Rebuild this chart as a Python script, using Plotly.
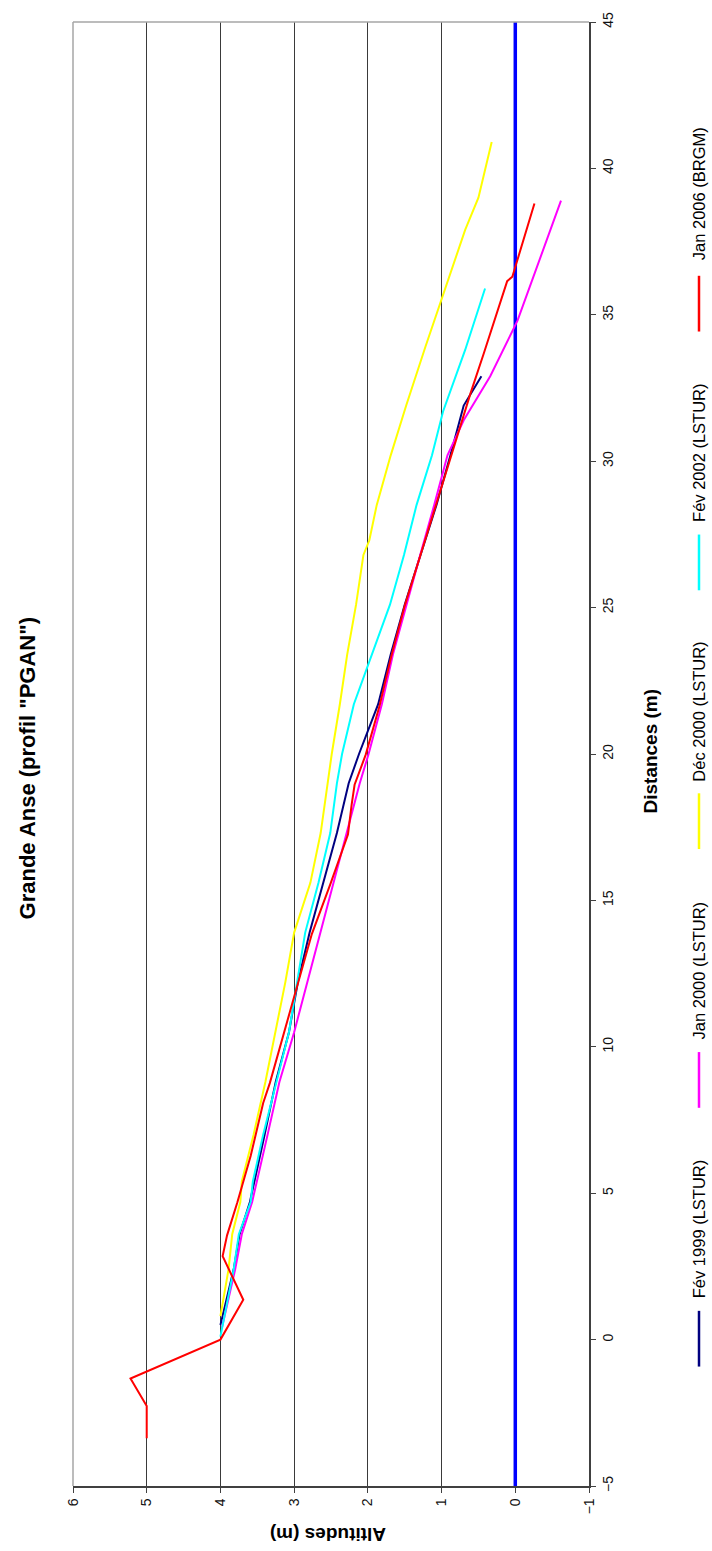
import plotly.graph_objects as go

# Beach profile "PGAN" at Grande Anse: altitude (m) against distance (m)
fev1999_dist = [0.5, 2.4, 3.6, 4.7, 7.0, 8.8, 10.5, 12.2, 13.9, 15.6, 17.3, 19.0, 20.0, 21.7,
                23.4, 25.1, 26.8, 28.5, 30.2, 31.9, 32.9]
fev1999_alt = [4.0, 3.82, 3.74, 3.60, 3.40, 3.25, 3.07, 2.95, 2.79, 2.60, 2.42, 2.26, 2.12, 1.86,
               1.69, 1.50, 1.29, 1.07, 0.88, 0.70, 0.46]

jan2000_dist = [0.4, 2.4, 3.6, 4.7, 7.0, 8.8, 10.5, 12.2, 13.9, 15.6, 17.3, 19.0, 20.0, 21.7,
                23.4, 25.1, 26.8, 28.5, 30.2, 31.4, 32.9, 34.8, 36.8, 38.9]
jan2000_alt = [3.98, 3.80, 3.71, 3.57, 3.36, 3.20, 3.00, 2.82, 2.64, 2.46, 2.29, 2.11, 1.99, 1.81,
               1.66, 1.48, 1.29, 1.10, 0.92, 0.70, 0.34, -0.03, -0.32, -0.62]

dec2000_dist = [0.8, 2.4, 3.6, 4.7, 5.4, 7.0, 8.8, 10.5, 12.2, 13.9, 15.6, 17.3, 19.0, 20.0,
                21.7, 23.4, 25.1, 26.8, 27.3, 28.5, 30.2, 31.9, 33.9, 35.4, 37.9, 39.0, 40.9]
dec2000_alt = [4.0, 3.89, 3.84, 3.73, 3.71, 3.55, 3.39, 3.25, 3.12, 3.00, 2.78, 2.64, 2.55, 2.49,
               2.38, 2.28, 2.16, 2.06, 1.98, 1.88, 1.69, 1.48, 1.22, 1.02, 0.68, 0.50, 0.32]

fev2002_dist = [0.1, 2.4, 3.6, 4.7, 5.4, 7.0, 8.8, 10.5, 12.2, 13.9, 15.6, 17.3, 19.0, 20.0,
                21.7, 23.4, 25.1, 26.8, 28.5, 30.2, 31.7, 33.8, 35.9]
fev2002_alt = [4.0, 3.82, 3.75, 3.59, 3.56, 3.42, 3.24, 3.07, 2.96, 2.85, 2.67, 2.51, 2.42, 2.35,
               2.19, 1.95, 1.70, 1.51, 1.34, 1.13, 0.98, 0.68, 0.41]

jan2006_dist = [-3.37, -2.27, -1.33, 0.0, 1.36, 2.85, 3.56, 4.69, 6.27, 8.08, 8.76, 10.46, 12.16,
                13.85, 15.55, 17.25, 18.27, 18.95, 19.97, 21.66, 23.36, 25.06, 26.76, 28.45,
                30.7, 32.3, 33.66, 36.15, 36.3, 36.83, 38.8]
jan2006_alt = [5.0, 5.0, 5.22, 4.0, 3.69, 3.97, 3.91, 3.77, 3.59, 3.42, 3.33, 3.14, 2.94,
               2.76, 2.51, 2.27, 2.22, 2.18, 2.03, 1.84, 1.68, 1.50, 1.29, 1.08,
               0.81, 0.61, 0.43, 0.11, 0.04, -0.025, -0.26]

# mean sea level reference
sea_dist = [-5, 45]
sea_alt = [0, 0]

series_names = ["Fév 1999 (LSTUR)", "Jan 2000 (LSTUR)", "Déc 2000 (LSTUR)",
                "Fév 2002 (LSTUR)", "Jan 2006 (BRGM)"]
series_colors = ["#000080", "#FF00FF", "#FFFF00", "#00FFFF", "#FF0000"]
series_data = [(fev1999_dist, fev1999_alt), (jan2000_dist, jan2000_alt),
               (dec2000_dist, dec2000_alt), (fev2002_dist, fev2002_alt),
               (jan2006_dist, jan2006_alt)]

W, H = 712, 1551
L, R, T, B = 73, 589, 15, 1486          # plot area edges in pixels
FONT = "Liberation Sans, Arial, sans-serif"


def px(xp):
    return (xp - L) / (R - L)


def py(yp):
    return (B - yp) / (B - T)


fig = go.Figure()

# the whole chart is laid out turned a quarter-turn: altitude runs across, distance runs up
fig.add_trace(go.Scatter(x=sea_alt, y=sea_dist, mode="lines",
                         line=dict(color="#0000FF", width=3.5), hoverinfo="skip"))

for name, color, (d, a) in zip(series_names, series_colors, series_data):
    fig.add_trace(go.Scatter(x=a, y=d, mode="lines", name=name,
                             line=dict(color=color, width=2)))

fig.update_xaxes(range=[6, -1], dtick=1, tick0=0, ticks="outside", ticklen=5,
                 tickcolor="#404040", showline=True, linecolor="#404040", linewidth=1.5,
                 showgrid=True, gridcolor="#3a3a3a", gridwidth=1.2, zeroline=False,
                 tickangle=-90, tickfont=dict(family=FONT, size=14, color="#111"))
fig.update_yaxes(range=[-5, 45], dtick=5, tick0=0, side="right", ticks="outside", ticklen=5,
                 tickcolor="#404040", showline=True, linecolor="#404040", linewidth=1.5,
                 showgrid=False, zeroline=False, tickangle=-90,
                 tickfont=dict(family=FONT, size=14, color="#111"))

shapes = [
    dict(type="line", xref="paper", yref="paper", x0=0, x1=0, y0=0, y1=1,
         line=dict(color="#a6a6a6", width=1.5)),
    dict(type="line", xref="paper", yref="paper", x0=0, x1=1, y0=1, y1=1,
         line=dict(color="#a6a6a6", width=1.5)),
]

annotations = [
    dict(text="<b>Grande Anse (profil \"PGAN\")</b>", x=px(27), y=py(765), textangle=-90,
         font=dict(family=FONT, size=22, color="#000")),
    dict(text="<b>Distances (m)</b>", x=px(651), y=py(748), textangle=-90,
         font=dict(family=FONT, size=19, color="#000")),
    dict(text="<b>Altitudes (m)</b>", x=px(328), y=py(1534), textangle=180,
         font=dict(family=FONT, size=19, color="#000")),
]

# legend drawn sideways along the right edge
legend_x = 699
legend_centres = [1338, 1078, 818, 558, 298]
for name, color, yc in zip(series_names, series_colors, legend_centres):
    shapes.append(dict(type="line", xref="paper", yref="paper",
                       x0=px(legend_x), x1=px(legend_x), y0=py(yc + 28), y1=py(yc - 28),
                       line=dict(color=color, width=2.5)))
    annotations.append(dict(text=name, x=px(legend_x), y=py(yc - 110), textangle=-90,
                            font=dict(family=FONT, size=16.5, color="#000")))

for a in annotations:
    a.update(xref="paper", yref="paper", showarrow=False,
             xanchor="center", yanchor="middle")

fig.update_layout(width=W, height=H, autosize=False, showlegend=False,
                  margin=dict(l=L, r=W - R, t=T, b=H - B),
                  paper_bgcolor="#ffffff", plot_bgcolor="#ffffff",
                  shapes=shapes, annotations=annotations)

fig.write_html("out.html")
